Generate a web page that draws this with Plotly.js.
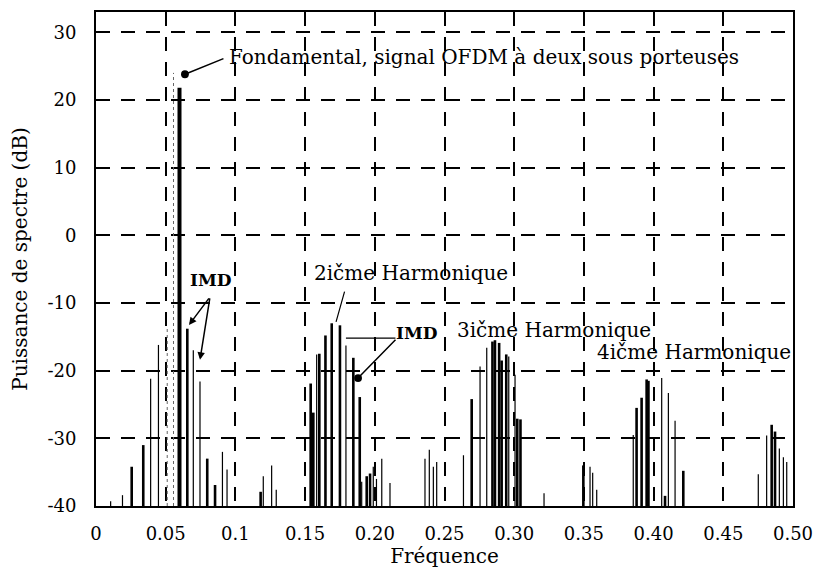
<!DOCTYPE html>
<html>
<head>
<meta charset="utf-8">
<script src="https://cdn.plot.ly/plotly-3.0.1.min.js"></script>
<style>
  html, body { margin: 0; padding: 0; background: #fff; }
  #chart { width: 824px; height: 568px; }
</style>
</head>
<body>
<div id="chart"></div>
<script>
// Spectrum floor of the plot (dB); every stem starts here
const floorDb = -40;

// Fundamental (two-carrier OFDM signal)
const fundFreq = [0.0599];
const fundDb   = [21.8];

// Strong spectral lines (carriers, harmonics and main IMD products)
const toneFreq = [0.0256, 0.0339, 0.0655, 0.0798, 0.0854, 0.1181,
                  0.1540, 0.1559, 0.1602, 0.1646, 0.1691, 0.1750, 0.1846, 0.1892, 0.1942, 0.1966,
                  0.2695, 0.2844, 0.2862, 0.2892, 0.2910, 0.2943, 0.3022, 0.3045, 0.3496,
                  0.3878, 0.3914, 0.3950, 0.3963, 0.4082, 0.4213,
                  0.4847, 0.4871];
const toneDb   = [-34.2, -31.0, -13.8, -33.0, -36.9, -37.9,
                  -21.9, -26.2, -17.5, -14.8, -13.0, -13.3, -18.1, -23.9, -35.6, -35.2,
                  -24.2, -15.7, -15.5, -15.9, -18.5, -17.6, -27.1, -27.2, -34.0,
                  -25.5, -24.0, -21.3, -21.5, -38.5, -34.8,
                  -28.0, -29.0];

// Weaker spurious lines
const spurFreq = [0.0105, 0.0190, 0.0392, 0.0448, 0.0698, 0.0746, 0.0907, 0.0940,
                  0.1200, 0.1260, 0.1293, 0.1583, 0.1793, 0.1906, 0.1989, 0.2012, 0.2050, 0.2109,
                  0.2360, 0.2391, 0.2420, 0.2444, 0.2636, 0.2755, 0.2803, 0.2961, 0.3006,
                  0.3214, 0.3544, 0.3563, 0.3592, 0.3854, 0.4058, 0.4106, 0.4154,
                  0.4751, 0.4811, 0.4902, 0.4931, 0.4955];
const spurDb   = [-39.3, -38.4, -21.2, -16.2, -17.0, -21.6, -32.0, -34.6,
                  -35.6, -34.0, -37.6, -17.6, -16.3, -36.4, -34.2, -36.0, -33.0, -36.6,
                  -33.0, -31.7, -34.2, -33.5, -32.5, -19.4, -16.6, -17.9, -20.6,
                  -38.1, -34.2, -35.1, -37.6, -29.5, -21.1, -23.3, -27.4,
                  -35.3, -29.6, -31.5, -32.8, -33.5];

// Faint (dotted) lines beside the fundamental
const faintFreq = [0.0511, 0.0556];
const faintDb   = [-13.7, 24.0];

// Axis ticks
const xTickVals = [0, 0.05, 0.1, 0.15, 0.2, 0.25, 0.3, 0.35, 0.4, 0.45, 0.5];
const xTickText = ['0', '0.05', '0.1', '0.15', '0.20', '0.25', '0.30', '0.35', '0.40', '0.45', '0.50'];
const yTickVals = [-40, -30, -20, -10, 0, 10, 20, 30];
const yTickText = ['-40', '-30', '-20', '-10', '0', '10', '20', '30'];

// Build vertical stems from the floor up to each level
function stems(freqs, levels) {
  const x = [], y = [];
  freqs.forEach((f, i) => {
    x.push(f, f, null);
    y.push(floorDb, levels[i], null);
  });
  return { x, y };
}

const serif = 'DejaVu Serif, Liberation Serif, serif';

function stemTrace(freqs, levels, width, color, dash) {
  const s = stems(freqs, levels);
  return {
    type: 'scatter', mode: 'lines', x: s.x, y: s.y,
    line: { color: color, width: width, dash: dash || 'solid' },
    hoverinfo: 'skip', showlegend: false, connectgaps: false
  };
}

const data = [
  stemTrace(faintFreq, faintDb, 1, '#666', 'dot'),
  stemTrace(spurFreq, spurDb, 1.2, '#000'),
  stemTrace(toneFreq, toneDb, 2.6, '#000'),
  stemTrace(fundFreq, fundDb, 4, '#000')
];

const textFont = { family: serif, size: 20, color: '#000' };

const layout = {
  width: 824, height: 568,
  margin: { l: 96, r: 31, t: 12, b: 62 },
  paper_bgcolor: '#fff', plot_bgcolor: '#fff',
  showlegend: false,
  font: { family: serif, color: '#000' },
  xaxis: {
    range: [0, 0.5], tickvals: xTickVals, ticktext: xTickText,
    showgrid: true, gridcolor: '#000', gridwidth: 2, griddash: '14px,11px',
    zeroline: false, showline: true, linecolor: '#000', linewidth: 2, mirror: true,
    ticks: '', ticklabelstandoff: 10,
    tickfont: { family: serif, size: 18, color: '#000' },
    title: { text: 'Fréquence', font: { family: serif, size: 20, color: '#000' }, standoff: 4 }
  },
  yaxis: {
    range: [-40, 33], tickvals: yTickVals, ticktext: yTickText,
    showgrid: true, gridcolor: '#000', gridwidth: 2, griddash: '14px,11px',
    zeroline: false, showline: true, linecolor: '#000', linewidth: 2, mirror: true,
    ticks: '', ticklabelstandoff: 14,
    tickfont: { family: serif, size: 18, color: '#000' },
    title: { text: 'Puissance de spectre (dB)', font: { family: serif, size: 20, color: '#000' }, standoff: 14 }
  },
  annotations: [
    // labels
    { x: 0.094, y: 26.35, xref: 'x', yref: 'y', xanchor: 'left', yanchor: 'middle',
      text: 'Fondamental, signal OFDM à deux sous porteuses', showarrow: false, font: textFont },
    { x: 0.0825, y: -6.6, xref: 'x', yref: 'y', xanchor: 'center', yanchor: 'middle',
      text: '<b>IMD</b>', showarrow: false, font: { family: serif, size: 17, color: '#000' } },
    { x: 0.155, y: -5.6, xref: 'x', yref: 'y', xanchor: 'left', yanchor: 'middle',
      text: '2ičme Harmonique', showarrow: false, font: textFont },
    { x: 0.2303, y: -14.4, xref: 'x', yref: 'y', xanchor: 'center', yanchor: 'middle',
      text: '<b>IMD</b>', showarrow: false, font: { family: serif, size: 17, color: '#000' } },
    { x: 0.2575, y: -14.0, xref: 'x', yref: 'y', xanchor: 'left', yanchor: 'middle',
      text: '3ičme Harmonique', showarrow: false, font: textFont },
    { x: 0.358, y: -17.2, xref: 'x', yref: 'y', xanchor: 'left', yanchor: 'middle',
      text: '4ičme Harmonique', showarrow: false, font: textFont },
    // pointers
    { x: 0.0638, y: 23.8, ax: 0.0925, ay: 26.2, xref: 'x', yref: 'y', axref: 'x', ayref: 'y',
      text: '', showarrow: true, arrowhead: 6, arrowsize: 1.3, arrowwidth: 1.5, arrowcolor: '#000' },
    { x: 0.0667, y: -13.25, ax: 0.0818, ay: -9.1, xref: 'x', yref: 'y', axref: 'x', ayref: 'y',
      text: '', showarrow: true, arrowhead: 2, arrowsize: 1, arrowwidth: 1.5, arrowcolor: '#000' },
    { x: 0.0746, y: -18.4, ax: 0.0818, ay: -9.1, xref: 'x', yref: 'y', axref: 'x', ayref: 'y',
      text: '', showarrow: true, arrowhead: 2, arrowsize: 1, arrowwidth: 1.5, arrowcolor: '#000' },
    { x: 0.1722, y: -12.8, ax: 0.1786, ay: -8.1, xref: 'x', yref: 'y', axref: 'x', ayref: 'y',
      text: '', showarrow: true, arrowhead: 0, arrowwidth: 1.2, arrowcolor: '#000' },
    { x: 0.1793, y: -15.2, ax: 0.2159, ay: -15.2, xref: 'x', yref: 'y', axref: 'x', ayref: 'y',
      text: '', showarrow: true, arrowhead: 0, arrowwidth: 1.2, arrowcolor: '#000' },
    { x: 0.188, y: -21.1, ax: 0.2159, ay: -15.2, xref: 'x', yref: 'y', axref: 'x', ayref: 'y',
      text: '', showarrow: true, arrowhead: 6, arrowsize: 1.3, arrowwidth: 1.5, arrowcolor: '#000' }
  ]
};

Plotly.newPlot('chart', data, layout, { staticPlot: true, displayModeBar: false });
</script>
</body>
</html>
